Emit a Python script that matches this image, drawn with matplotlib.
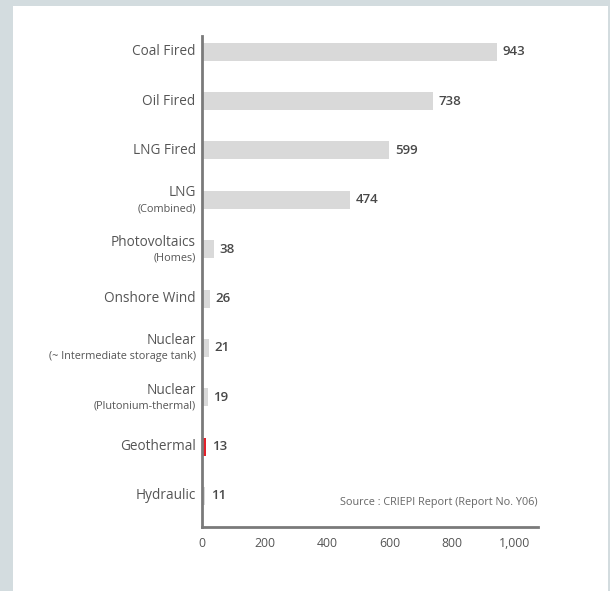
#!/usr/bin/env python3
# lifecycle CO2 emissions by power source (CRIEPI)

import matplotlib.pyplot as plt
from matplotlib.patches import Rectangle
import numpy as np

# data
sources = ['Coal Fired', 'Oil Fired', 'LNG Fired', 'LNG',
           'Photovoltaics', 'Onshore Wind', 'Nuclear', 'Nuclear',
           'Geothermal', 'Hydraulic']
subnotes = ['', '', '', '(Combined)', '(Homes)', '',
            '(~ Intermediate storage tank)', '(Plutonium-thermal)', '', '']
emissions = [943, 738, 599, 474, 38, 26, 21, 19, 13, 11]
highlight = 'Geothermal'
xticks = [0, 200, 400, 600, 800, 1000]
xtick_labels = ['0', '200', '400', '600', '800', '1,000']
source_note = 'Source : CRIEPI Report (Report No. Y06)'

plt.rcParams['font.family'] = ['Open Sans', 'DejaVu Sans']
text_grey = '#555555'
bar_grey = '#d9d9d9'
red = '#e2202a'

fig = plt.figure(figsize=(6.1, 5.91), dpi=100)
fig.patch.set_facecolor('#d3dcdf')
# white panel behind the chart
fig.patches.append(Rectangle((13/610, 0), 595/610, 585/591,
                             transform=fig.transFigure, facecolor='white',
                             edgecolor='none', zorder=-5))
ax = fig.add_axes([202/610, 64/591, 336/610, 491/591])
ax.set_facecolor('none')

y = np.arange(len(sources))
colors = [red if s == highlight else bar_grey for s in sources]
ax.barh(y, emissions, height=0.365, color=colors, zorder=2)

ax.set_xlim(0, 1075)
ax.set_ylim(9.63, -0.32)

# value labels next to each bar
for yi, v in zip(y, emissions):
    ax.annotate(str(v), (v, yi), xytext=(4, 0), textcoords='offset points',
                ha='left', va='center', fontsize=9.5, color='#484848',
                fontweight='semibold')

# category labels, two-line where there is a note
for yi, name, note in zip(y, sources, subnotes):
    if note:
        ax.annotate(name, (0, yi), xytext=(-4.5, 5), textcoords='offset points',
                    ha='right', va='center', fontsize=9.8, color=text_grey)
        ax.annotate(note, (0, yi), xytext=(-4.5, -6.3), textcoords='offset points',
                    ha='right', va='center', fontsize=7.8, color=text_grey)
    else:
        ax.annotate(name, (0, yi), xytext=(-4.5, 0), textcoords='offset points',
                    ha='right', va='center', fontsize=9.8, color=text_grey)

ax.set_yticks([])
ax.set_xticks(xticks)
ax.set_xticklabels(xtick_labels)
ax.tick_params(axis='x', length=0, pad=7, labelsize=8.8, labelcolor=text_grey)

for side in ['top', 'right']:
    ax.spines[side].set_visible(False)
for side in ['left', 'bottom']:
    ax.spines[side].set_color('#7a7a7a')
    ax.spines[side].set_linewidth(2)

ax.text(1.0, 0.05, source_note, transform=ax.transAxes, ha='right',
        va='center', fontsize=7.8, color='#666666')

fig.savefig('out.png', dpi=100)
